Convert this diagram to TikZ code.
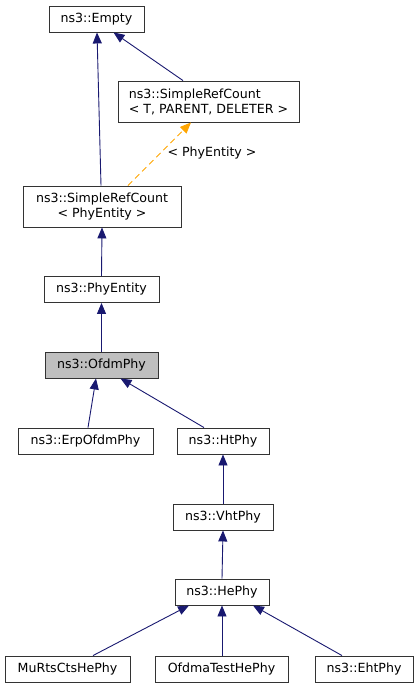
\documentclass[tikz,border=0pt]{standalone}
\usepackage{fontspec}
\setmainfont{DejaVu Sans}
\usetikzlibrary{arrows.meta}
\definecolor{edgeblue}{HTML}{191970}
\definecolor{edgeorange}{HTML}{FFA500}
\definecolor{boxgray}{HTML}{BFBFBF}
\tikzset{
  cls/.style={draw=black!80, fill=white, line width=0.9pt, inner sep=0pt, minimum height=26pt, font=\fontsize{12.6}{15}\selectfont},
  inh/.style={draw=edgeblue, line width=0.9pt, -{Triangle[length=11pt,width=9pt]}, shorten >=0pt},
  tmpl/.style={draw=edgeorange, line width=0.9pt, dash pattern=on 6pt off 4pt, -{Triangle[length=11pt,width=9pt]}},
  lbl/.style={font=\fontsize{12.6}{15}\selectfont, inner sep=0pt}
}
\begin{document}
\begin{tikzpicture}[x=1pt,y=-1pt]
\useasboundingbox (0,0) rectangle (419,688);
\node[cls, minimum width=95pt] (empty) at (96.5,19) {ns3::Empty};
\node[cls, minimum width=181pt, minimum height=41pt, align=left] (srcT) at (208.5,101.5) {ns3::SimpleRefCount\\< T, PARENT, DELETER >};
\node[cls, minimum width=158pt, minimum height=41pt, align=center] (src2) at (102,206.5) {ns3::SimpleRefCount\\< PhyEntity >};
\node[cls, minimum width=115pt] (phy) at (101.5,289.5) {ns3::PhyEntity};
\node[cls, minimum width=113pt, fill=boxgray] (ofdm) at (101.5,365) {ns3::OfdmPhy};
\node[cls, minimum width=135pt] (erp) at (85.5,441) {ns3::ErpOfdmPhy};
\node[cls, minimum width=92pt] (ht) at (223,441) {ns3::HtPhy};
\node[cls, minimum width=100pt] (vht) at (223,517) {ns3::VhtPhy};
\node[cls, minimum width=94pt] (he) at (222,592) {ns3::HePhy};
\node[cls, minimum width=125pt] (murts) at (67.5,669) {MuRtsCtsHePhy};
\node[cls, minimum width=133pt] (ofdmatest) at (221.5,669) {OfdmaTestHePhy};
\node[cls, minimum width=98pt] (eht) at (364,669) {ns3::EhtPhy};

\draw[inh] ([xshift=-1pt]src2.north) -- ([xshift=0.5pt]empty.south);
\draw[inh] ([xshift=-25.5pt]srcT.north) -- ([xshift=17pt]empty.south);
\draw[tmpl] ([xshift=26pt]src2.north) -- ([xshift=-17.5pt]srcT.south);
\node[lbl] (tlabel) at (212,153) {< PhyEntity >};
\draw[inh] (phy.north) -- (src2.south);
\draw[inh] (ofdm.north) -- (phy.south);
\draw[inh] ([xshift=2.5pt]erp.north) -- ([xshift=-5.5pt]ofdm.south);
\draw[inh] ([xshift=-19pt]ht.north) -- ([xshift=19pt]ofdm.south);
\draw[inh] (vht.north) -- (ht.south);
\draw[inh] (he.north) -- (vht.south);
\draw[inh] ([xshift=25.5pt]murts.north) -- ([xshift=-33pt]he.south);
\draw[inh] ([xshift=0.5pt]ofdmatest.north) -- (he.south);
\draw[inh] ([xshift=-22pt]eht.north) -- ([xshift=31pt]he.south);
\end{tikzpicture}
\end{document}
